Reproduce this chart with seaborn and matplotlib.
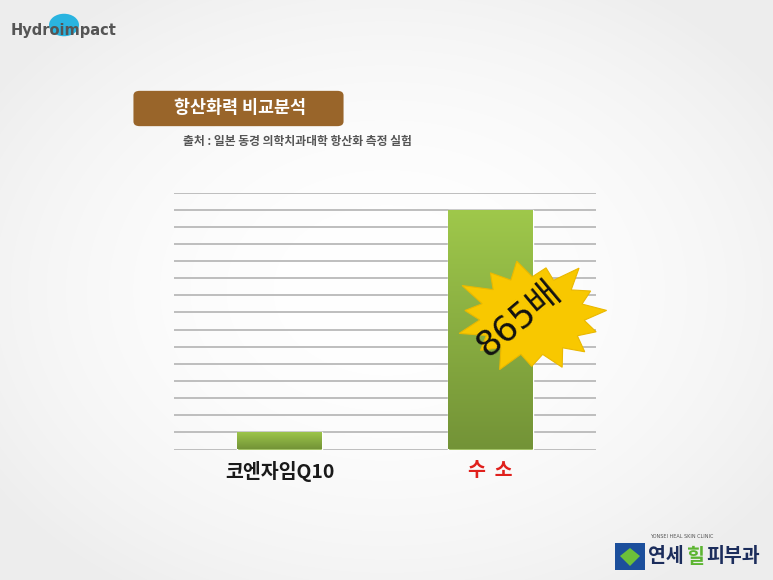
import numpy as np
import pandas as pd
import matplotlib
matplotlib.use("Agg")
import matplotlib.pyplot as plt
from matplotlib.patches import FancyBboxPatch, Polygon, Circle, Rectangle
import seaborn as sns

# ---- data ----
categories = ["코엔자임Q10", "수  소"]
values = [1, 14]
label_colors = ["#1a1a1a", "#e0201c"]
title_text = "항산화력 비교분석"
source_text = "출처 : 일본 동경 의학치과대학 항산화 측정 실험"
burst_text = "865배"

sns.set_theme(style="white")
plt.rcParams["font.family"] = ["Noto Sans CJK KR", "DejaVu Sans"]

W, H = 773, 580
fig = plt.figure(figsize=(W / 100, H / 100), dpi=100)

# background radial vignette
bg = fig.add_axes([0, 0, 1, 1], zorder=-10)
yy, xx = np.mgrid[0:H, 0:W]
r = np.sqrt(((xx - W / 2) / (W * 0.62)) ** 2 + ((yy - H / 2) / (H * 0.62)) ** 2)
shade = 1.0 - 0.07 * np.clip(r, 0, 1) ** 2
bg.imshow(np.dstack([shade] * 3), extent=[0, W, H, 0], aspect="auto")
bg.set_xlim(0, W); bg.set_ylim(H, 0); bg.axis("off")

def fx(px):
    return px / W

def fy(py):
    return 1 - py / H

# main axes
ax = fig.add_axes([fx(174), fy(449.5), (596 - 174) / W, (449.5 - 192.5) / H])
ax.patch.set_alpha(0)
df = pd.DataFrame({"cat": categories, "val": values})
sns.barplot(data=df, x="cat", y="val", ax=ax, width=0.4, color="#8db543",
            saturation=1, zorder=3)
ax.set_ylim(0, 15)
ax.set_xlim(-0.5, 1.5)
ax.set_yticks(np.arange(0, 16, 1))
ax.set_yticklabels([])
ax.tick_params(axis="y", length=0)
ax.tick_params(axis="x", length=0, pad=8)
ax.grid(axis="y", color="#b9b9b9", linewidth=1.3, zorder=0)
ax.set_axisbelow(True)
for s in ax.spines.values():
    s.set_visible(False)
ax.set_xlabel(""); ax.set_ylabel("")
ax.set_xticks(range(len(categories)))
ax.set_xticklabels(categories, fontsize=14, fontweight="bold")
for lbl, c in zip(ax.get_xticklabels(), label_colors):
    lbl.set_color(c)

# gradient fill on bars
grad = np.linspace(0, 1, 256).reshape(-1, 1)
top = np.array([0x9f, 0xc8, 0x4b]) / 255
bot = np.array([0x73, 0x93, 0x37]) / 255
img = (top[None, None, :] * (1 - grad[..., None]) + bot[None, None, :] * grad[..., None])
for p in ax.patches:
    x0, y0 = p.get_x(), p.get_y()
    w, h = p.get_width(), p.get_height()
    im = ax.imshow(img, extent=[x0, x0 + w, y0, y0 + h], aspect="auto",
                   zorder=4, origin="upper")
    im.set_clip_path(p)
ax.set_xlim(-0.5, 1.5)
ax.set_ylim(0, 15)

# starburst
cx, cy = 532, 316
n = 15
angles = np.linspace(0, 2 * np.pi, 2 * n, endpoint=False) + 0.1
outer = [1.0, 0.9, 1.06, 0.88, 1.0, 0.95, 1.08, 0.9, 1.02, 0.92, 1.05, 0.9, 1.0, 0.95, 0.9]
pts = []
for i, a in enumerate(angles):
    if i % 2 == 0:
        rad = outer[(i // 2) % n]
    else:
        rad = 0.7
    px = cx + 75 * rad * np.cos(a)
    py = cy - 56 * rad * np.sin(a)
    pts.append((fx(px), fy(py)))
star = Polygon(pts, closed=True, transform=fig.transFigure, facecolor="#f8c800",
               edgecolor="#eab800", linewidth=0.8, zorder=20)
fig.patches.append(star)
fig.text(fx(519), fy(318), burst_text, fontsize=25, rotation=40, ha="center",
         va="center", color="#111111", zorder=21,
         family=["DejaVu Sans", "Noto Sans CJK KR"])

# header box
hb = FancyBboxPatch((fx(135), fy(125)), (342 - 135) / W, (125 - 92) / H,
                    boxstyle="round,pad=0.002,rounding_size=0.008",
                    transform=fig.transFigure, facecolor="#99652a",
                    edgecolor="none", zorder=5)
fig.patches.append(hb)
fig.text(fx(240), fy(108), title_text, fontsize=12.5, fontweight="bold",
         color="white", ha="center", va="center", zorder=10)
fig.text(fx(183), fy(141), source_text, fontsize=8.5, fontweight="bold",
         color="#555555", ha="left", va="center", zorder=10)

# Hydroimpact logo
fig.patches.append(Circle((fx(64), fy(25)), 15 / W, transform=fig.transFigure,
                          facecolor="#2ab4e0", edgecolor="none", zorder=5))
fig.text(fx(11), fy(31), "Hydroimpact", fontsize=10.5, fontweight="bold",
         color="#555555", ha="left", va="center", zorder=10,
         family=["DejaVu Sans"])

# clinic logo
fig.patches.append(Rectangle((fx(615), fy(570)), 30 / W, 27 / H,
                             transform=fig.transFigure, facecolor="#1c4f9c",
                             edgecolor="none", zorder=5))
fig.patches.append(Polygon([(fx(620), fy(556)), (fx(630), fy(548)), (fx(640), fy(556)),
                            (fx(630), fy(566))], closed=True,
                           transform=fig.transFigure, facecolor="#6cbf3a",
                           edgecolor="none", zorder=6))
fig.text(fx(650), fy(537), "YONSEI HEAL SKIN CLINIC", fontsize=3.5,
         color="#555555", ha="left", va="center", family=["DejaVu Sans"], zorder=10)
fig.text(fx(648), fy(557), "연세", fontsize=14, fontweight="bold",
         color="#1c2d5c", ha="left", va="center", zorder=10)
fig.text(fx(687), fy(557), "힐", fontsize=14, fontweight="bold",
         color="#5cb531", ha="left", va="center", zorder=10)
fig.text(fx(706), fy(557), "피부과", fontsize=14, fontweight="bold",
         color="#1c2d5c", ha="left", va="center", zorder=10)

fig.savefig("out.png", dpi=100)
